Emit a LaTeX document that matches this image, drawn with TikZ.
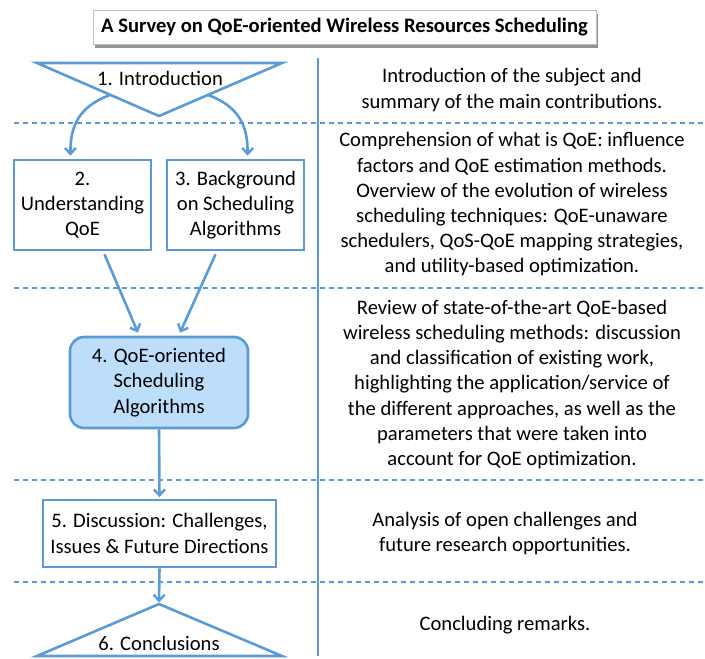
\documentclass[tikz,border=0pt]{standalone}
\usepackage{fontspec}
\setmainfont{Carlito}
\usetikzlibrary{arrows.meta,shadows,calc}
\definecolor{lblue}{HTML}{5B9BD5}
\definecolor{fblue}{HTML}{BDDEFB}
\begin{document}
\begin{tikzpicture}[x=1pt,y=-1pt,
  every node/.style={font=\fontsize{20.6}{25.2}\selectfont, text=black, align=center, inner sep=0pt},
  shp/.style={draw=lblue, line width=2.6pt, fill=white},
  conn/.style={draw=lblue, line width=2.6pt, -{Straight Barb[length=6pt,width=11pt,line width=2.4pt]}},
  sep/.style={draw=lblue, line width=1.8pt, dash pattern=on 5pt off 4pt},
  desc/.style={anchor=center}]
\useasboundingbox (0,0) rectangle (705,659);
% title
\node[draw=gray!50, fill=white, line width=0.5pt, minimum width=503pt, minimum height=34pt,
  drop shadow={shadow xshift=2pt, shadow yshift=-4pt, opacity=0.6, fill=black!70}, font=\fontsize{20.6}{24}\selectfont\bfseries]
  (title) at (344.5,27) {A Survey on QoE-oriented Wireless Resources Scheduling};
% separators
\draw[draw=lblue, line width=1.4pt] (318,58) coordinate (vt) -- (318,656) coordinate (vb);
\foreach \y/\n in {123/a,288/b,480/c,582/d} {
  \draw[sep] (14,\y) coordinate (l\n) -- (703,\y) coordinate (r\n);
}
% triangle 1
\draw[shp] (37,63) coordinate (t1a) -- (282,63) coordinate (t1b) -- (159,116) coordinate (t1c) -- cycle;
\node (n1) at (160,78) {1. Introduction};
\coordinate (s1l) at (110,95);
\coordinate (s1r) at (208,95);
% boxes 2,3
\node[shp, minimum width=137pt, minimum height=90pt] (n2) at (82.5,205) {2.\\Understanding\\QoE};
\node[shp, minimum width=137pt, minimum height=90pt] (n3) at (235.5,205) {3. Background\\on Scheduling\\Algorithms};
% box 4
\node[shp, fill=fblue, rounded corners=14pt, minimum width=178pt, minimum height=91pt] (n4) at (159,382.5) {4. QoE-oriented\\Scheduling\\Algorithms};
% box 5
\node[shp, minimum width=233pt, minimum height=67pt] (n5) at (159.5,533.5) {5. Discussion: Challenges,\\Issues \& Future Directions};
% triangle 6
\draw[shp] (159,604) coordinate (t6a) -- (282,656) coordinate (t6b) -- (37,656) coordinate (t6c) -- cycle;
\node (n6) at (159,643) {6. Conclusions};
% connectors
\draw[conn] (s1l) .. controls (80,106) and (70,125) .. ($(n2.north)+(-12,-3)$);
\draw[conn] (s1r) .. controls (238,106) and (248,125) .. ($(n3.north)+(12,-3)$);
\draw[conn] ($(n2.south)+(22,3)$) -- ($(n4.north)+(-21,-3)$);
\draw[conn] ($(n3.south)+(-20,3)$) -- ($(n4.north)+(21,-3)$);
\draw[conn] (n4.south) -- ($(n5.north)+(0,-1.5)$);
\draw[conn] (n5.south) -- ($(t6a)+(0,-1.5)$);
% descriptions
\node[desc] (d1) at (512,90) {Introduction of the subject and\\summary of the main contributions.};
\node[desc] (d2) at (512,204.5) {Comprehension of what is QoE: influence\\factors and QoE estimation methods.\\Overview of the evolution of wireless\\scheduling techniques: QoE-unaware\\schedulers, QoS-QoE mapping strategies,\\and utility-based optimization.};
\node[desc] (d3) at (512,384.5) {Review of state-of-the-art QoE-based\\wireless scheduling methods: discussion\\and classification of existing work,\\highlighting the application/service of\\the different approaches, as well as the\\parameters that were taken into\\account for QoE optimization.};
\node[desc] (d4) at (505,533.5) {Analysis of open challenges and\\future research opportunities.};
\node[desc] (d5) at (505,625) {Concluding remarks.};
\end{tikzpicture}
\end{document}
